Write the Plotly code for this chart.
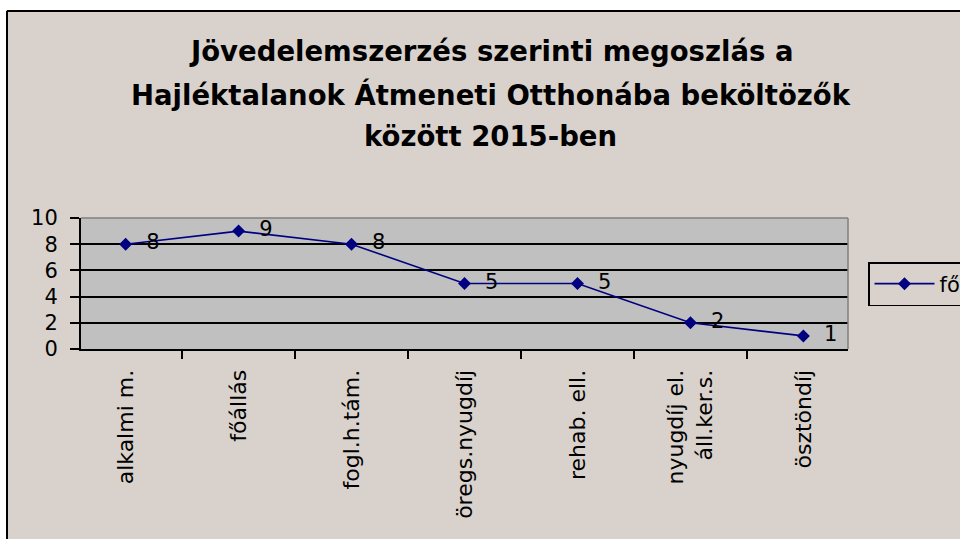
import plotly.graph_objects as go

categories = ["alkalmi m.", "főállás", "fogl.h.tám.", "öregs.nyugdíj", "rehab. ell.",
              "nyugdíj el.<br>áll.ker.s.", "ösztöndíj"]
values = [8, 9, 8, 5, 5, 2, 1]
series_name = "fő"
title_lines = ["Jövedelemszerzés szerinti megoszlás a",
               "Hajléktalanok Átmeneti Otthonába beköltözők",
               "között 2015-ben"]
y_ticks = [0, 2, 4, 6, 8, 10]

FONT = "DejaVu Sans"
BG = "#D9D2CC"
NAVY = "#000080"

W, H = 960, 539
L, T = 81, 218
pw, ph = 767, 131
R = W - L - pw
B = H - T - ph

def px_x(x):
    return (x - L) / pw

def px_y(y):
    return (T + ph - y) / ph

fig = go.Figure()
fig.add_trace(go.Scatter(
    x=categories, y=values, name=series_name,
    mode="lines+markers+text",
    line=dict(color=NAVY, width=1.6),
    marker=dict(symbol="diamond", size=10, color=NAVY),
    text=[str(v) for v in values],
    texttemplate="\u00a0\u00a0%{text}",
    textposition="middle right",
    textfont=dict(family=FONT, size=21, color="black"),
    cliponaxis=False,
))

shapes = [
    # white strips at left and top
    dict(type="rect", xref="paper", yref="paper", x0=px_x(-20), x1=px_x(6), y0=px_y(600), y1=px_y(-20),
         fillcolor="white", line_width=0, layer="above"),
    dict(type="rect", xref="paper", yref="paper", x0=px_x(-20), x1=px_x(1000), y0=px_y(10), y1=px_y(-20),
         fillcolor="white", line_width=0, layer="above"),
    # chart border: left and top edges
    dict(type="line", xref="paper", yref="paper", x0=px_x(7), x1=px_x(7), y0=px_y(600), y1=px_y(11),
         line=dict(color="black", width=2), layer="above"),
    dict(type="line", xref="paper", yref="paper", x0=px_x(7), x1=px_x(1000), y0=px_y(11), y1=px_y(11),
         line=dict(color="black", width=2), layer="above"),
    # plot area gray border (top / right)
    dict(type="line", xref="paper", yref="paper", x0=0, x1=1, y0=1, y1=1,
         line=dict(color="#808080", width=1.5), layer="above"),
    dict(type="line", xref="paper", yref="paper", x0=1, x1=1, y0=0, y1=1,
         line=dict(color="#808080", width=1.5), layer="above"),
]

annotations = []
for line, ypx in zip(title_lines, [51, 94, 136]):
    annotations.append(dict(
        text="<b>%s</b>" % line, xref="paper", yref="paper",
        x=px_x(491), y=px_y(ypx), xanchor="center", yanchor="middle",
        showarrow=False, font=dict(family=FONT, size=27.5, color="black"),
    ))

fig.update_layout(
    width=W, height=H,
    margin=dict(l=L, r=R, t=T, b=B, pad=0, autoexpand=False),
    paper_bgcolor=BG,
    plot_bgcolor="#C0C0C0",
    showlegend=True,
    legend=dict(
        x=px_x(868), y=px_y(262), xanchor="left", yanchor="top",
        bgcolor=BG, bordercolor="black", borderwidth=1.5,
        font=dict(family=FONT, size=21, color="black"),
        itemwidth=60,
    ),
    shapes=shapes,
    annotations=annotations,
    xaxis=dict(
        type="category", tickson="boundaries",
        ticks="outside", ticklen=8, tickwidth=1.5, tickcolor="black",
        tickangle=-90, tickfont=dict(family=FONT, size=22, color="black"),
        showline=True, linecolor="black", linewidth=2,
        showgrid=False, zeroline=False, ticklabelstandoff=10,
        automargin=False, fixedrange=True,
    ),
    yaxis=dict(
        range=[0, 10], tickvals=y_ticks, ticktext=[str(v) for v in y_ticks],
        ticks="outside", ticklen=9, tickwidth=1.5, tickcolor="black",
        tickfont=dict(family=FONT, size=21, color="black"),
        showline=True, linecolor="black", linewidth=2,
        showgrid=True, gridcolor="black", gridwidth=1.5,
        zeroline=False, ticklabelstandoff=8,
        automargin=False, fixedrange=True,
    ),
    font=dict(family=FONT),
)

fig.write_html(
    "out.html",
    config={"displayModeBar": False},
    post_script="document.body.style.margin='0';document.documentElement.style.overflow='hidden';document.body.style.overflow='hidden';",
)
